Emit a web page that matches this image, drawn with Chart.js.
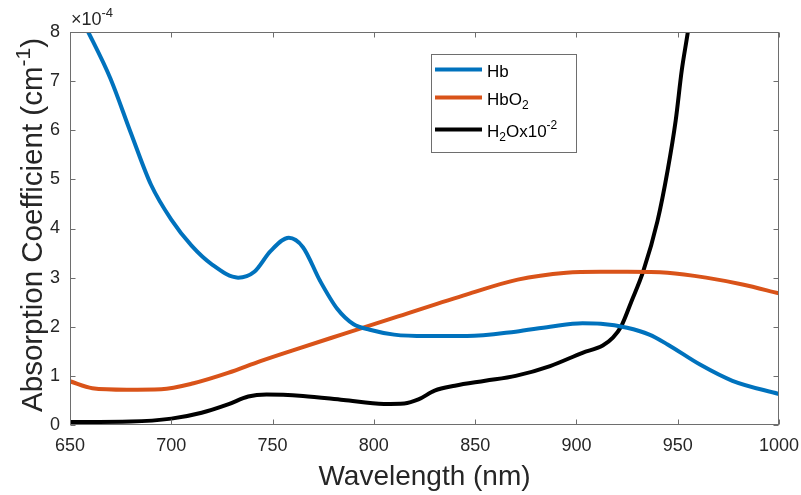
<!DOCTYPE html>
<html>
<head>
<meta charset="utf-8">
<title>Absorption coefficient</title>
<script src="https://cdn.jsdelivr.net/npm/chart.js@4.4.0/dist/chart.umd.min.js"></script>
<style>
  html, body { margin: 0; padding: 0; background: #fff; }
  #wrap { width: 801px; height: 495px; }
</style>
</head>
<body>
<div id="wrap"><canvas id="absChart" width="801" height="495"></canvas></div>
<script>
// ---- data (units of 1e-4 cm^-1) ----
const hbWl = [650, 659, 670, 680, 690, 700, 710, 720, 733, 741, 749, 758, 765, 773.5, 782, 790, 798, 810, 826, 846, 870, 887, 903, 912, 925, 936, 945, 961, 977, 1000];
const hbVal = [8.72, 8.0, 7.05, 5.95, 4.89, 4.18, 3.65, 3.27, 3.0, 3.12, 3.54, 3.81, 3.62, 2.93, 2.36, 2.05, 1.94, 1.84, 1.81, 1.81, 1.9, 2.0, 2.07, 2.06, 1.98, 1.84, 1.64, 1.23, 0.9, 0.63];

const hbo2Wl = [650, 661, 678, 695, 711, 728, 744, 760, 784, 812, 846, 871, 895, 912, 925, 945, 964, 982, 1000];
const hbo2Val = [0.89, 0.75, 0.72, 0.73, 0.85, 1.06, 1.3, 1.52, 1.84, 2.21, 2.66, 2.96, 3.10, 3.12, 3.12, 3.10, 3.0, 2.86, 2.68];

const h2oWl = [650, 680, 700, 715, 728, 738, 747, 765, 785, 805, 815, 822, 830, 840, 855, 870, 887, 903, 913, 918, 922, 927, 933, 940, 945, 949, 952, 955, 958];
const h2oVal = [0.06, 0.07, 0.13, 0.25, 0.42, 0.58, 0.62, 0.59, 0.51, 0.43, 0.44, 0.52, 0.70, 0.80, 0.90, 1.0, 1.2, 1.47, 1.62, 1.78, 2.0, 2.5, 3.13, 4.15, 5.18, 6.2, 7.22, 8.0, 8.9];

const seriesLabels = ['Hb', 'HbO_2', 'H_2Ox10^{-2}'];
const seriesColors = ['#0072BD', '#D95319', '#000000'];

const xTicks = [650, 700, 750, 800, 850, 900, 950, 1000];
const yTicks = [0, 1, 2, 3, 4, 5, 6, 7, 8];

const xTitle = 'Wavelength (nm)';
const yTitle = 'Absorption Coefficient (cm^{-1})';
const yExponent = '\u00d710^{-4}';

const FONT = '"Liberation Sans", Arial, Helvetica, sans-serif';
const TEXT_COLOR = '#262626';
const AXIS_COLOR = '#6e6e6e';

function toPoints(xs, ys) {
    return xs.map((x, i) => ({ x: x, y: ys[i] }));
}

// split "HbO_2" / "cm^{-1}" into normal / sub / sup pieces
function parseRich(str) {
    const parts = [];
    let i = 0, buf = '';
    while (i < str.length) {
        const c = str[i];
        if (c === '_' || c === '^') {
            if (buf) { parts.push({ t: buf, m: 'n' }); buf = ''; }
            let t;
            if (str[i + 1] === '{') {
                const end = str.indexOf('}', i + 2);
                t = str.slice(i + 2, end);
                i = end + 1;
            } else {
                t = str[i + 1];
                i += 2;
            }
            parts.push({ t: t, m: c === '_' ? 'sub' : 'sup' });
        } else {
            buf += c;
            i++;
        }
    }
    if (buf) parts.push({ t: buf, m: 'n' });
    return parts;
}

function drawRich(ctx, str, x, y, size, align) {
    const parts = parseRich(str);
    const small = Math.round(size * 0.72);
    let total = 0;
    parts.forEach(p => {
        ctx.font = (p.m === 'n' ? size : small) + 'px ' + FONT;
        p.w = ctx.measureText(p.t).width;
        total += p.w;
    });
    let cx = x;
    if (align === 'center') cx = x - total / 2;
    else if (align === 'right') cx = x - total;
    ctx.textAlign = 'left';
    ctx.textBaseline = 'alphabetic';
    parts.forEach(p => {
        ctx.font = (p.m === 'n' ? size : small) + 'px ' + FONT;
        let dy = 0;
        if (p.m === 'sub') dy = size * 0.28;
        if (p.m === 'sup') dy = -size * 0.42;
        ctx.fillText(p.t, cx, y + dy);
        cx += p.w;
    });
}

// box, inward ticks, legend, titles (MATLAB look)
const matlabFrame = {
    id: 'matlabFrame',
    afterDraw(chart) {
        const ctx = chart.ctx;
        const a = chart.chartArea;
        const xs = chart.scales.x, ys = chart.scales.y;
        const L = Math.round(a.left) + 0.5, R = Math.round(a.right) - 0.5;
        const T = Math.round(a.top) + 0.5, B = Math.round(a.bottom) - 0.5;
        const tick = 5;

        ctx.save();
        ctx.strokeStyle = AXIS_COLOR;
        ctx.lineWidth = 1;
        ctx.strokeRect(L, T, R - L, B - T);

        ctx.beginPath();
        xTicks.forEach(v => {
            const px = Math.round(xs.getPixelForValue(v)) + 0.5;
            ctx.moveTo(px, B); ctx.lineTo(px, B - tick);
            ctx.moveTo(px, T); ctx.lineTo(px, T + tick);
        });
        yTicks.forEach(v => {
            const py = Math.round(ys.getPixelForValue(v)) + 0.5;
            ctx.moveTo(L, py); ctx.lineTo(L + tick, py);
            ctx.moveTo(R, py); ctx.lineTo(R - tick, py);
        });
        ctx.stroke();

        // exponent above the y axis
        ctx.fillStyle = TEXT_COLOR;
        drawRich(ctx, yExponent, a.left + 1, a.top - 7, 18, 'left');

        // axis titles
        drawRich(ctx, xTitle, (a.left + a.right) / 2, 485, 28, 'center');
        ctx.save();
        ctx.translate(42, 225);
        ctx.rotate(-Math.PI / 2);
        drawRich(ctx, yTitle, 0, 0, 29.5, 'center');
        ctx.restore();

        // legend
        const box = { x: 431.5, y: 54.5, w: 145, h: 98 };
        ctx.fillStyle = '#ffffff';
        ctx.fillRect(box.x, box.y, box.w, box.h);
        ctx.strokeStyle = AXIS_COLOR;
        ctx.strokeRect(box.x, box.y, box.w, box.h);
        const rowY = [69.5, 97.5, 129.5];
        chart.data.datasets.forEach((ds, i) => {
            ctx.strokeStyle = ds.borderColor;
            ctx.lineWidth = 4;
            ctx.beginPath();
            ctx.moveTo(435, rowY[i]);
            ctx.lineTo(482, rowY[i]);
            ctx.stroke();
            ctx.fillStyle = '#000';
            drawRich(ctx, seriesLabels[i], 487, rowY[i] + 7, 17, 'left');
        });
        ctx.restore();
    }
};

const seriesData = [toPoints(hbWl, hbVal), toPoints(hbo2Wl, hbo2Val), toPoints(h2oWl, h2oVal)];

new Chart(document.getElementById('absChart').getContext('2d'), {
    type: 'line',
    data: {
        datasets: seriesData.map((pts, i) => ({
            label: seriesLabels[i],
            data: pts,
            borderColor: seriesColors[i],
            borderWidth: 4,
            pointRadius: 0,
            fill: false,
            cubicInterpolationMode: 'monotone',
            clip: 0
        }))
    },
    options: {
        responsive: false,
        animation: false,
        events: [],
        layout: { padding: { left: 0, right: 22, top: 32, bottom: 0 } },
        plugins: {
            legend: { display: false },
            tooltip: { enabled: false },
            title: { display: false }
        },
        scales: {
            x: {
                type: 'linear',
                min: 650,
                max: 1000,
                afterBuildTicks: s => { s.ticks = xTicks.map(v => ({ value: v })); },
                afterFit: s => { s.height = 70; s.paddingLeft = 0; s.paddingRight = 0; },
                grid: { display: false, drawTicks: false },
                border: { display: false },
                ticks: {
                    color: TEXT_COLOR,
                    padding: 10,
                    maxRotation: 0,
                    callback: v => String(v),
                    font: { family: FONT, size: 18 }
                }
            },
            y: {
                type: 'linear',
                min: 0,
                max: 8,
                afterBuildTicks: s => { s.ticks = yTicks.map(v => ({ value: v })); },
                afterFit: s => { s.width = 70; s.paddingTop = 0; s.paddingBottom = 0; },
                grid: { display: false, drawTicks: false },
                border: { display: false },
                ticks: {
                    color: TEXT_COLOR,
                    padding: 10,
                    callback: v => String(v),
                    font: { family: FONT, size: 18 }
                }
            }
        }
    },
    plugins: [matlabFrame]
});
</script>
</body>
</html>
